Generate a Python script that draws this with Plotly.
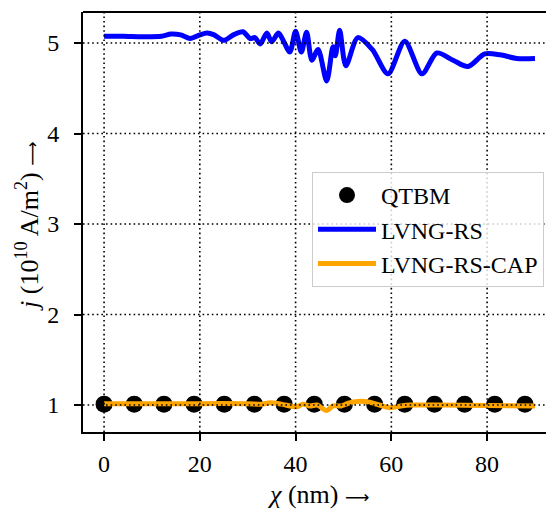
import plotly.graph_objects as go

# ---- data ----
blue_x = [0, 4, 8, 12, 14, 16, 18, 20, 21.5, 23, 25, 27, 29, 30.5, 31.5, 32.6, 34, 35, 36.4, 37.4,
          38.8, 40, 41.2, 42.3, 43.4, 44.7, 46.5, 47.8, 48.3, 49.2, 50.5, 53, 56, 59.3, 62.8,
          66.4, 69.5, 72.9, 76, 79.5, 82.7, 86.2, 90]
blue_y = [5.075, 5.075, 5.07, 5.075, 5.10, 5.09, 5.05, 5.09, 5.11, 5.09, 5.03, 5.09, 5.125, 5.05,
          5.06, 4.99, 5.11, 5.015, 5.11, 5.03, 4.90, 5.13, 4.90, 5.12, 4.81, 4.93, 4.58, 4.96,
          4.86, 5.14, 4.75, 5.06, 4.93, 4.66, 5.02, 4.66, 4.89, 4.81, 4.74, 4.88, 4.87, 4.83, 4.83]

orange_x = [0, 10, 20, 30, 33, 34.6, 37, 40.3, 41.5, 43, 44.5, 46.5, 47.8, 49.5, 51, 53, 55.5,
            57.5, 59.7, 62, 64, 70, 80, 90]
orange_y = [1.015, 1.015, 1.015, 1.015, 1.01, 1.025, 1.01, 0.98, 1.01, 0.99, 1.0, 0.94, 0.99,
            0.99, 1.02, 1.04, 1.03, 1.0, 0.97, 0.99, 1.0, 1.0, 0.995, 0.99]

qtbm_x = [0, 6.3, 12.5, 18.8, 25.1, 31.4, 37.6, 43.9, 50.2, 56.5, 62.8, 69.0, 75.3, 81.6, 87.9]
qtbm_y = [1.01, 1.01, 1.01, 1.01, 1.01, 1.01, 1.01, 1.01, 1.01, 1.01, 1.01, 1.01, 1.01, 1.01, 1.01]

x_ticks = [0, 20, 40, 60, 80]
y_ticks = [1, 2, 3, 4, 5]

FONT = "Liberation Serif"
FS = 24
ARROW = '<span style="font-family:DejaVu Sans;font-size:17px">⟶</span>'

fig = go.Figure()
fig.add_trace(go.Scatter(x=qtbm_x, y=qtbm_y, mode="markers", name="QTBM",
                         marker=dict(color="black", size=17)))
fig.add_trace(go.Scatter(x=blue_x, y=blue_y, mode="lines", name="LVNG-RS",
                         line=dict(color="#0000ff", width=5, shape="spline", smoothing=0.8)))
fig.add_trace(go.Scatter(x=orange_x, y=orange_y, mode="lines", name="LVNG-RS-CAP",
                         line=dict(color="#ffa500", width=5, shape="spline", smoothing=0.8)))

# grid lines drawn above the data (dotted black)
for xv in x_ticks:
    fig.add_shape(type="line", xref="x", yref="paper", x0=xv, x1=xv, y0=0, y1=1,
                  line=dict(color="black", width=1.6, dash="1.6px,3px"), layer="above")
for yv in y_ticks:
    fig.add_shape(type="line", xref="paper", yref="y", x0=0, x1=1, y0=yv, y1=yv,
                  line=dict(color="black", width=1.6, dash="1.6px,3px"), layer="above")

fig.update_xaxes(range=[-4.4, 92.3], tickvals=x_ticks, ticks="outside", ticklen=7, tickwidth=1.6,
                 tickcolor="black", showline=True, linecolor="black", linewidth=2, mirror=False,
                 showgrid=False, zeroline=False, ticklabelstandoff=2,
                 tickfont=dict(family=FONT, size=FS, color="black"))
fig.update_yaxes(range=[0.702, 5.343], tickvals=y_ticks, ticks="outside", ticklen=7, tickwidth=1.6,
                 tickcolor="black", showline=True, linecolor="black", linewidth=2,
                 showgrid=False, zeroline=False, ticklabelstandoff=10,
                 tickfont=dict(family=FONT, size=FS, color="black"))

# top spine
fig.add_shape(type="line", xref="paper", yref="paper", x0=0, x1=1, y0=1, y1=1,
              line=dict(color="black", width=2), layer="above")

fig.add_annotation(text="<i>χ</i> (nm) " + ARROW, xref="paper", yref="paper",
                   x=(318 - 83) / 463, y=(432 - 495) / 420, showarrow=False,
                   xanchor="center", yanchor="middle",
                   font=dict(family=FONT, size=26, color="black"))
fig.add_annotation(text="<i>j</i> (10<sup>10</sup> A/m<sup>2</sup>) " + ARROW,
                   xref="paper", yref="paper",
                   x=(27 - 83) / 463, y=(432 - 226) / 420, showarrow=False, textangle=-90,
                   xanchor="center", yanchor="middle",
                   font=dict(family=FONT, size=26, color="black"))

fig.update_layout(
    width=546, height=510,
    margin=dict(l=83, r=0, t=12, b=78),
    plot_bgcolor="white", paper_bgcolor="white",
    showlegend=True,
    legend=dict(x=(312 - 83) / 463, y=(432 - 172) / 420, xanchor="left", yanchor="top",
                bgcolor="rgba(255,255,255,0.8)", bordercolor="#cccccc", borderwidth=1,
                itemwidth=58, tracegroupgap=0,
                font=dict(family=FONT, size=FS, color="black")),
)

fig.write_html("out.html")
